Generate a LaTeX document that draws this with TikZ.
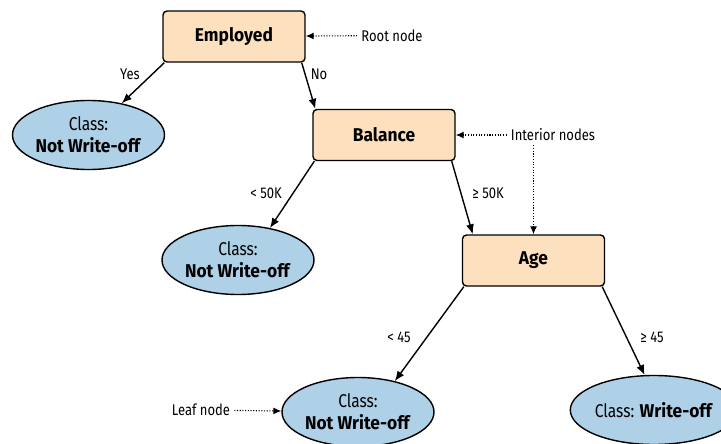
\documentclass[tikz,border=0pt]{standalone}
\usepackage{fontspec}
\setmainfont{Fira Sans}[FakeStretch=0.84, BoldFeatures={FakeStretch=0.94}]
\usetikzlibrary{shapes.geometric, arrows.meta}
\definecolor{boxfill}{RGB}{253,224,190}
\definecolor{leaffill}{RGB}{174,209,232}

\begin{document}
\begin{tikzpicture}[x=1pt, y=-1pt,
    box/.style={draw, line width=1.4pt, fill=boxfill, rounded corners=4pt,
      minimum width=142pt, minimum height=51pt,
      font=\fontsize{18.5}{22}\selectfont\bfseries},
    leaf/.style={draw, ellipse, line width=1.4pt, fill=leaffill, inner sep=0pt,
      minimum width=152pt, minimum height=69pt, align=center,
      font=\fontsize{18.5}{22}\selectfont},
    lbl/.style={inner sep=1pt, font=\fontsize{15.5}{17}\selectfont},
    branch/.style={line width=1.4pt, -{Latex[length=10pt, width=8pt]}},
    note/.style={line width=1.1pt, dash pattern=on 1.1pt off 1.6pt,
      -{Latex[length=8pt, width=7pt]}}]
  \useasboundingbox (0,0) rectangle (721,444);

  % decision nodes
  \node[box] (emp) at (234,36.5) {Employed};
  \node[box] (bal) at (384,135) {Balance};
  \node[box] (age) at (533.5,260.5) {Age};

  % leaves
  \node[leaf] (leafA) at (88.5,135) {Class:\\\textbf{Not Write-off}};
  \node[leaf] (leafB) at (238,260) {Class:\\\textbf{Not Write-off}};
  \node[leaf] (leafC) at (358,412) {Class:\\\textbf{Not Write-off}};
  \node[leaf] (leafD) at (654,410) {Class: \textbf{Write-off}};

  % branches
  \draw[branch] ([xshift=2pt]emp.south west) -- (leafA);
  \draw[branch] ([xshift=-4pt]emp.south east) -- ([xshift=3pt]bal.north west);
  \draw[branch] ([xshift=2pt]bal.south west) -- (leafB.45);
  \draw[branch] ([xshift=-4pt]bal.south east) -- ([xshift=11pt]age.north west);
  \draw[branch] ([xshift=2pt]age.south west) -- (leafC.40);
  \draw[branch] ([xshift=-3pt]age.south east) -- (leafD.105);

  % branch labels
  \node[lbl] (yes) at (130,74) {Yes};
  \node[lbl] (no) at (319,74) {No};
  \node[lbl] (lo50) at (266,193) {< 50K};
  \node[lbl] (hi50) at (488,193) {≥ 50K};
  \node[lbl] (lo45) at (399,337) {< 45};
  \node[lbl] (hi45) at (652,337) {≥ 45};

  % callouts
  \node[lbl, inner sep=4pt] (root) at (392,35.5) {Root node};
  \node[lbl, inner sep=4pt] (inter) at (553,135) {Interior nodes};
  \node[lbl, inner sep=4pt] (leafnote) at (201,410) {Leaf node};
  \draw[note] (root) -- (emp);
  \draw[note] (inter) -- (bal);
  \draw[note] (inter.south -| age.north) -- (age.north);
  \draw[note] (leafnote) -- (leafC);
\end{tikzpicture}
\end{document}
